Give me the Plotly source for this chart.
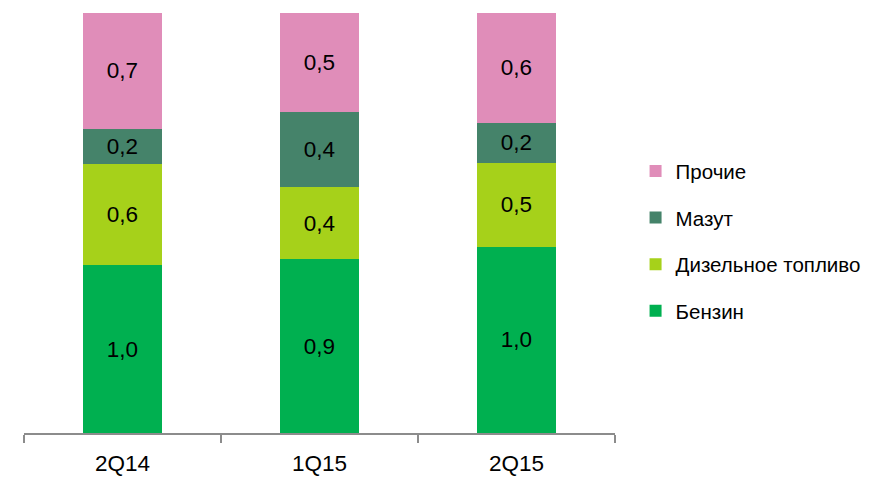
import plotly.graph_objects as go

categories = ["2Q14", "1Q15", "2Q15"]
series_names = ["Бензин", "Дизельное топливо", "Мазут", "Прочие"]
benzin = [1.0, 0.91, 1.02]
diesel = [0.6, 0.38, 0.46]
mazut = [0.21, 0.39, 0.22]
other = [0.69, 0.52, 0.60]
colors = ["#00B050", "#A6D11A", "#45836A", "#E08DB9"]

series_values = [benzin, diesel, mazut, other]

def fmt(v):
    return f"{v:.1f}".replace(".", ",")

FONT = "Liberation Sans"

fig = go.Figure()
for i, (name, vals, col) in enumerate(zip(series_names, series_values, colors)):
    fig.add_trace(go.Bar(
        x=categories, y=vals, name=name,
        marker=dict(color=col, line=dict(width=0)),
        text=[fmt(v) for v in vals],
        textposition="inside", insidetextanchor="middle",
        textangle=0, constraintext="none",
        textfont=dict(family=FONT, size=22.5, color="black"),
        legendgroup=name, legendrank=len(series_names) - i,
        hoverinfo="skip",
    ))

fig.update_layout(
    barmode="stack", barnorm="fraction", bargap=0.6,
    width=868, height=469,
    margin=dict(l=16, r=261, t=5, b=44, autoexpand=False),
    paper_bgcolor="white", plot_bgcolor="white",
    font=dict(family=FONT, size=22, color="black"),
    showlegend=True,
    legend=dict(
        xref="container", yref="container",
        x=0.723, xanchor="left", y=0.503, yanchor="middle",
        traceorder="grouped", tracegroupgap=17,
        font=dict(family=FONT, size=20.5, color="black"),
        bgcolor="rgba(0,0,0,0)",
    ),
    xaxis=dict(
        showline=True, linecolor="#8C8C8C", linewidth=1.5,
        ticks="outside", tickson="boundaries", ticklen=8,
        tickcolor="#8C8C8C", tickwidth=1.5,
        tickfont=dict(family=FONT, size=22.5, color="black"),
        ticklabelstandoff=9,
        showgrid=False, zeroline=False, automargin=False,
    ),
    yaxis=dict(visible=False, range=[0, 1], showgrid=False, zeroline=False, automargin=False),
)

fig.write_html("out.html")
